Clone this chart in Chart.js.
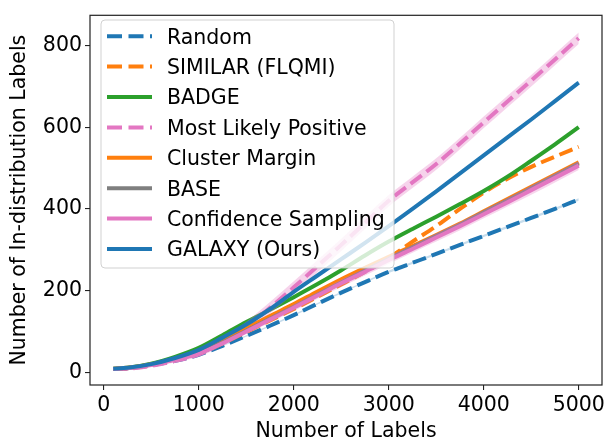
<!DOCTYPE html>
<html>
<head>
<meta charset="utf-8">
<script src="https://cdn.jsdelivr.net/npm/chart.js@4.4.1/dist/chart.umd.min.js"></script>
<style>
  html, body { margin: 0; padding: 0; background: #fff; }
  canvas { display: block; }
</style>
</head>
<body>
<canvas id="chart" width="612" height="445"></canvas>
<script>
// number of labels queried
const labelCounts = [100, 250, 500, 750, 1000, 1250, 1500, 1750, 2000, 2250, 2500,
  2750, 3000, 3250, 3500, 3750, 4000, 4250, 4500, 4750, 5000];

// in-distribution labels found
const randomVals = [8, 10, 17, 28, 43, 65, 89, 114, 140, 168, 195, 221, 246, 268, 290, 312, 334, 356, 378, 400, 423];
const similarVals = [8, 10, 18, 31, 46, 71, 99, 127, 155, 185, 215, 246, 280, 320, 358, 400, 440, 474, 503, 528, 552];
const badgeVals = [9, 11, 21, 38, 60, 91, 123, 153, 184, 216, 250, 286, 320, 351, 381, 412, 444, 479, 518, 558, 600];
const mlpVals = [8, 9, 16, 28, 44, 74, 112, 158, 208, 260, 312, 366, 420, 465, 510, 560, 612, 663, 714, 766, 818];
const clusterVals = [9, 11, 20, 33, 49, 77, 108, 138, 167, 198, 228, 256, 283, 309, 336, 364, 394, 424, 454, 484, 514];
const baseVals = [8, 10, 19, 32, 47, 73, 102, 131, 160, 190, 220, 249, 278, 306, 334, 362, 392, 421, 451, 481, 511];
const confVals = [8, 10, 18, 31, 46, 71, 100, 129, 158, 188, 218, 246, 275, 302, 330, 358, 387, 416, 446, 476, 506];
const galaxyVals = [9, 11, 20, 35, 55, 85, 117, 155, 197, 237, 277, 317, 358, 400, 443, 487, 531, 575, 619, 664, 709];

// half-width of the shaded bands
const randomSpread = [0, 0, 1, 1, 1, 1, 2, 2, 2, 2, 2, 2, 3, 3, 3, 3, 3, 3, 3, 3, 3];
const mlpSpread = [0, 1, 2, 4, 6, 9, 12, 14, 15, 15, 15, 15, 14, 14, 14, 14, 14, 14, 14, 14, 14];
const confSpread = [0, 1, 2, 3, 4, 5, 6, 7, 8, 8, 9, 9, 9, 9, 10, 10, 10, 10, 11, 11, 11];
const galaxySpread = [0, 0, 1, 1, 1, 2, 2, 2, 3, 3, 3, 3, 3, 3, 3, 3, 3, 4, 4, 4, 4];

const xTicks = [0, 1000, 2000, 3000, 4000, 5000];
const yTicks = [0, 200, 400, 600, 800];

const series = [
  { label: "Random", data: randomVals, spread: randomSpread, color: "#1f77b4", band: "rgba(31,119,180,0.25)", dash: true },
  { label: "SIMILAR (FLQMI)", data: similarVals, color: "#ff7f0e", dash: true },
  { label: "BADGE", data: badgeVals, color: "#2ca02c", dash: false },
  { label: "Most Likely Positive", data: mlpVals, spread: mlpSpread, color: "#e377c2", band: "rgba(227,119,194,0.32)", dash: true },
  { label: "Cluster Margin", data: clusterVals, color: "#ff7f0e", dash: false },
  { label: "BASE", data: baseVals, color: "#7f7f7f", dash: false },
  { label: "Confidence Sampling", data: confVals, spread: confSpread, color: "#e377c2", band: "rgba(227,119,194,0.3)", dash: false },
  { label: "GALAXY (Ours)", data: galaxyVals, spread: galaxySpread, color: "#1f77b4", band: "rgba(31,119,180,0.25)", dash: false },
];

const LINE_W = 4;
const DASH = [14, 6];
const FONT_PX = 20.5;

function toPoints(vals) {
  return vals.map((v, i) => ({ x: labelCounts[i], y: v }));
}

const datasets = [];
series.forEach((s, i) => {
  const base = 100 - i * 3;
  if (s.spread) {
    datasets.push({
      data: toPoints(s.data.map((v, j) => v + s.spread[j])),
      borderWidth: 0, pointRadius: 0, backgroundColor: s.band,
      fill: "+1", order: base, cubicInterpolationMode: "monotone",
    });
    datasets.push({
      data: toPoints(s.data.map((v, j) => v - s.spread[j])),
      borderWidth: 0, pointRadius: 0, fill: false,
      order: base - 1, cubicInterpolationMode: "monotone",
    });
  }
  datasets.push({
    label: s.label,
    data: toPoints(s.data),
    borderColor: s.color,
    borderWidth: LINE_W,
    borderDash: s.dash ? DASH : [],
    borderCapStyle: "butt",
    pointRadius: 0,
    fill: false,
    order: base - 2,
    cubicInterpolationMode: "monotone",
  });
});

// frame around the plot area, like matplotlib spines
const framePlugin = {
  id: "frame",
  afterDatasetsDraw(chart) {
    const { ctx, chartArea: a } = chart;
    ctx.save();
    ctx.strokeStyle = "#222";
    ctx.lineWidth = 1.2;
    ctx.strokeRect(a.left, a.top, a.right - a.left, a.bottom - a.top);
    ctx.restore();
  },
};

// legend box inside the axes, drawn over the lines
const legendPlugin = {
  id: "innerLegend",
  afterDraw(chart) {
    const ctx = chart.ctx;
    const bx = 101, by = 20, bw = 293, bh = 248, r = 4;
    ctx.save();
    ctx.beginPath();
    ctx.moveTo(bx + r, by);
    ctx.arcTo(bx + bw, by, bx + bw, by + bh, r);
    ctx.arcTo(bx + bw, by + bh, bx, by + bh, r);
    ctx.arcTo(bx, by + bh, bx, by, r);
    ctx.arcTo(bx, by, bx + bw, by, r);
    ctx.closePath();
    ctx.fillStyle = "rgba(255,255,255,0.8)";
    ctx.fill();
    ctx.strokeStyle = "rgba(204,204,204,0.9)";
    ctx.lineWidth = 1;
    ctx.stroke();

    ctx.font = FONT_PX + "px 'DejaVu Sans'";
    ctx.textBaseline = "alphabetic";
    ctx.textAlign = "left";
    series.forEach((s, i) => {
      const baseline = 43.5 + i * 30.4;
      const ly = baseline - 7.3;
      ctx.beginPath();
      ctx.setLineDash(s.dash ? [15, 6.5] : []);
      ctx.strokeStyle = s.color;
      ctx.lineWidth = LINE_W;
      ctx.lineCap = "butt";
      ctx.moveTo(107, ly);
      ctx.lineTo(152, ly);
      ctx.stroke();
      ctx.setLineDash([]);
      ctx.fillStyle = "#000";
      ctx.fillText(s.label, 167, baseline);
    });
    ctx.restore();
  },
};

Chart.defaults.font.family = "'DejaVu Sans'";
Chart.defaults.font.size = FONT_PX;
Chart.defaults.color = "#000";

new Chart(document.getElementById("chart"), {
  type: "line",
  data: { datasets },
  options: {
    responsive: false,
    animation: false,
    devicePixelRatio: 1,
    layout: { padding: { top: 8, right: 10, left: 0, bottom: 0 } },
    plugins: {
      legend: { display: false },
      tooltip: { enabled: false },
    },
    scales: {
      x: {
        type: "linear",
        min: -145,
        max: 5245,
        afterBuildTicks: (s) => { s.ticks = xTicks.map((v) => ({ value: v })); },
        afterFit: (s) => { s.height = 60; },
        ticks: { padding: 3, maxRotation: 0, autoSkip: false, callback: (v) => String(v) },
        grid: { drawOnChartArea: false, tickLength: 5, color: "#222", lineWidth: 1.1 },
        border: { display: false },
        title: { display: true, text: "Number of Labels", padding: { top: 0, bottom: 1 } },
      },
      y: {
        min: -31,
        max: 874,
        afterBuildTicks: (s) => { s.ticks = yTicks.map((v) => ({ value: v })); },
        afterFit: (s) => { s.width = 90; },
        ticks: { padding: 3, autoSkip: false, callback: (v) => String(v) },
        grid: { drawOnChartArea: false, tickLength: 5, color: "#222", lineWidth: 1.1 },
        border: { display: false },
        title: { display: true, text: "Number of In-distribution Labels", padding: { top: 7, bottom: 0 } },
      },
    },
  },
  plugins: [framePlugin, legendPlugin],
});
</script>
</body>
</html>
